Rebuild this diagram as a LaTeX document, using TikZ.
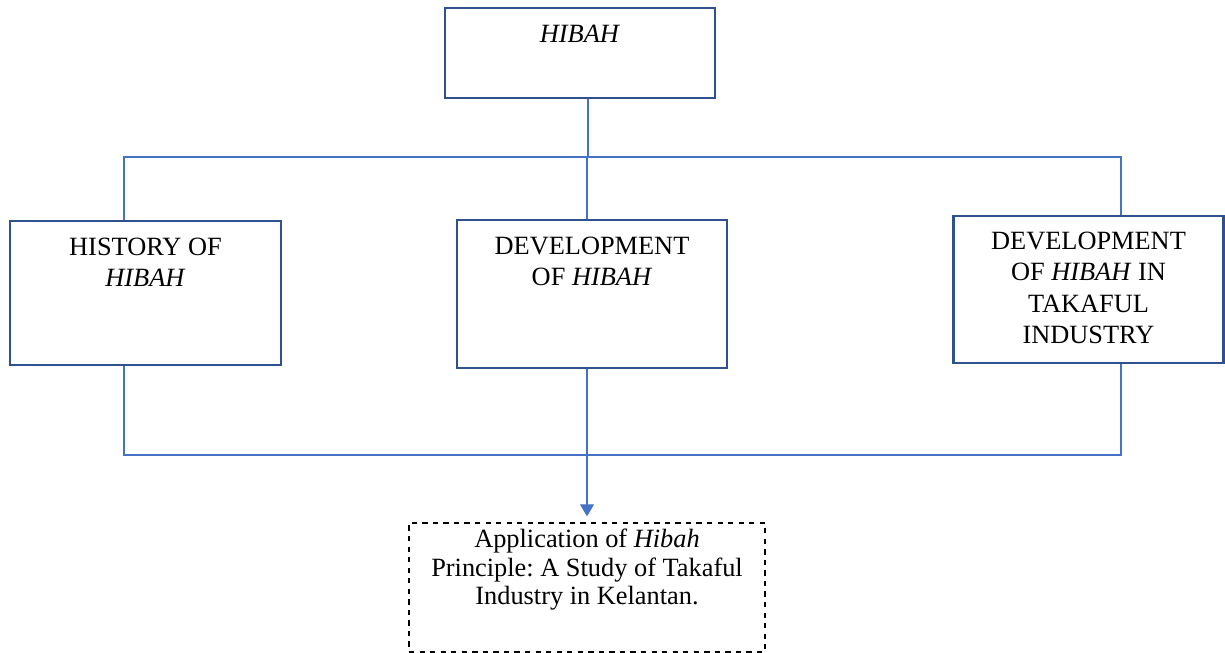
\documentclass[tikz,border=0pt]{standalone}
\usepackage{fontspec}
\setmainfont{Liberation Serif}
\usepackage{xcolor}
\usepackage{tikz}
\usetikzlibrary{positioning, arrows.meta}

\definecolor{boxblue}{HTML}{2F528F}
\definecolor{lineblue}{HTML}{4472C4}
\frenchspacing

\begin{document}
\begin{tikzpicture}[
        font=\fontsize{15}{18}\selectfont,
        topicbox/.style={rectangle, draw=boxblue, line width=1.5pt, fill=white, inner sep=0pt, text width=5.4cm, align=flush center, text height=0.68cm},
        studybox/.style={rectangle, draw=black, dashed, line width=0.7pt, inner sep=0pt, text width=7.12cm, align=flush center, text height=0.5cm, text depth=2.08cm, font=\fontsize{15}{16}\selectfont},
        conn/.style={draw=lineblue, line width=0.6pt}
    ]
    \useasboundingbox (0,0) rectangle (24.5,-13.04);

    % 1. Boxes (top, then the row of three, then the study)
    \node[topicbox, text depth=1.12cm] (hibah) at (11.6,-1.06) {\textit{HIBAH}};

    \node[topicbox, text width=5.42cm, text depth=2.2cm] (history) at (2.91,-5.86) {HISTORY OF\\ \textit{HIBAH}};
    \node[topicbox, text depth=2.28cm] (develop) at (11.84,-5.88) {DEVELOPMENT\\ OF \textit{HIBAH}};
    \node[topicbox, text height=0.66cm, text depth=2.28cm] (takaful) at (21.77,-5.79) {DEVELOPMENT\\ OF \textit{HIBAH} IN\\ TAKAFUL\\ INDUSTRY};

    \node[studybox, below=3.06cm of develop, xshift=-0.1cm] (study) {Application of \textit{Hibah}\\ Principle: A Study of Takaful\\ Industry in Kelantan.};

    % 2. Bus lines
    \coordinate (topbus) at (0,-3.14);
    \coordinate (botbus) at (0,-9.1);

    % upper branch
    \draw[conn] ([xshift=0.16cm]hibah.south) -- ([xshift=0.16cm]hibah.south |- topbus);
    \draw[conn] ([xshift=-0.43cm]history.north) |- ([xshift=0.65cm]takaful.north |- topbus) -- ([xshift=0.65cm]takaful.north);
    \draw[conn] ([xshift=-0.1cm]develop.north) -- ([xshift=-0.1cm]develop.north |- topbus);

    % lower branch and arrow to the study
    \draw[conn] ([xshift=-0.43cm]history.south) |- ([xshift=0.65cm]takaful.south |- botbus) -- ([xshift=0.65cm]takaful.south);
    \draw[conn, -{Triangle[width=0.28cm, length=0.24cm]}, shorten >=0.12cm] ([xshift=-0.1cm]develop.south) -- (study.north);

\end{tikzpicture}
\end{document}
